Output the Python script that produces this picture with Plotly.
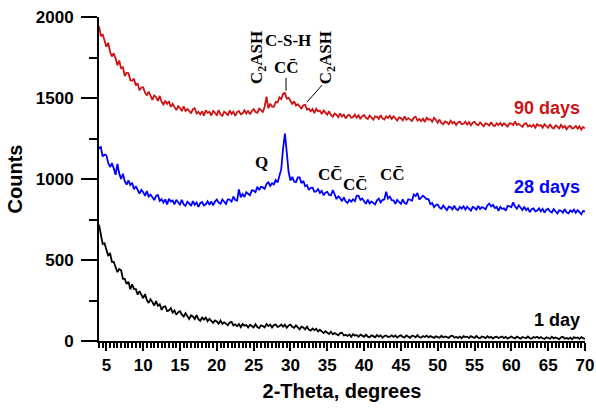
import numpy as np
import plotly.graph_objects as go

# XRD scan grid: 4-70 deg 2-theta, 0.25 deg step
two_theta = np.arange(4.0, 70.001, 0.25)

counts_90d = [
    1943, 1881, 1894, 1855, 1816, 1841, 1786, 1756, 1776, 1743, 1702, 1731, 1684, 1689, 1636, 1656, 1654, 1609, 1607, 1619,
    1577, 1590, 1547, 1565, 1567, 1533, 1516, 1540, 1516, 1488, 1516, 1506, 1482, 1513, 1476, 1460, 1484, 1464, 1480, 1445,
    1464, 1441, 1425, 1449, 1439, 1419, 1448, 1420, 1432, 1421, 1405, 1431, 1437, 1404, 1414, 1399, 1418, 1391, 1424, 1408,
    1415, 1392, 1422, 1408, 1395, 1425, 1398, 1390, 1416, 1407, 1393, 1423, 1402, 1416, 1389, 1413, 1420, 1399, 1406, 1424,
    1404, 1422, 1399, 1420, 1431, 1414, 1409, 1435, 1426, 1414, 1446, 1509, 1436, 1465, 1447, 1446, 1475, 1474, 1504, 1493,
    1527, 1531, 1496, 1501, 1483, 1461, 1480, 1453, 1461, 1450, 1435, 1455, 1458, 1428, 1434, 1418, 1432, 1407, 1433, 1418,
    1422, 1401, 1424, 1410, 1397, 1418, 1395, 1384, 1404, 1396, 1382, 1405, 1386, 1397, 1374, 1392, 1396, 1378, 1382, 1397,
    1378, 1393, 1370, 1388, 1395, 1378, 1371, 1392, 1381, 1366, 1387, 1384, 1371, 1394, 1374, 1367, 1387, 1377, 1390, 1371,
    1386, 1370, 1361, 1381, 1376, 1362, 1386, 1365, 1376, 1368, 1358, 1379, 1385, 1361, 1370, 1358, 1373, 1352, 1378, 1366,
    1369, 1353, 1377, 1365, 1347, 1367, 1345, 1338, 1356, 1350, 1338, 1360, 1343, 1353, 1333, 1349, 1354, 1338, 1341, 1354,
    1337, 1351, 1331, 1347, 1353, 1338, 1331, 1349, 1339, 1325, 1344, 1340, 1330, 1351, 1332, 1326, 1344, 1334, 1346, 1329,
    1344, 1331, 1324, 1344, 1342, 1333, 1355, 1334, 1341, 1331, 1322, 1340, 1345, 1324, 1332, 1322, 1335, 1317, 1338, 1329,
    1333, 1316, 1338, 1327, 1316, 1339, 1318, 1312, 1330, 1324, 1312, 1334, 1317, 1327, 1307, 1323, 1328, 1312, 1315, 1328,
    1311, 1325, 1305, 1321, 1313,
]

counts_28d = [
    1190, 1198, 1139, 1151, 1146, 1100, 1074, 1098, 1067, 1026, 1093, 1033, 1001, 1032, 987, 966, 991, 963, 977, 936,
    956, 929, 910, 933, 919, 896, 925, 891, 903, 888, 870, 896, 901, 865, 875, 855, 874, 843, 878, 861,
    867, 843, 872, 856, 842, 871, 843, 834, 859, 849, 834, 864, 841, 855, 828, 851, 858, 837, 844, 862,
    841, 861, 837, 861, 873, 854, 847, 874, 863, 846, 875, 872, 860, 892, 870, 867, 936, 887, 907, 889,
    918, 906, 900, 930, 928, 918, 952, 932, 952, 948, 939, 969, 980, 957, 974, 967, 993, 978, 1024, 1061,
    1188, 1280, 1165, 1043, 991, 1013, 984, 981, 1010, 1010, 974, 988, 956, 962, 932, 946, 947, 922, 924, 937,
    914, 927, 899, 916, 921, 902, 900, 931, 906, 876, 893, 882, 863, 886, 861, 852, 872, 860, 874, 863,
    897, 896, 871, 879, 863, 847, 872, 849, 861, 853, 843, 868, 878, 855, 870, 875, 922, 880, 891, 869,
    868, 846, 871, 858, 846, 874, 852, 847, 875, 872, 866, 904, 894, 914, 873, 885, 897, 887, 876, 876,
    845, 852, 826, 839, 842, 823, 816, 836, 824, 808, 829, 825, 812, 835, 814, 808, 828, 817, 831, 812,
    829, 814, 805, 827, 822, 810, 834, 815, 827, 821, 813, 838, 848, 831, 840, 821, 828, 804, 828, 815,
    819, 804, 834, 831, 827, 856, 830, 817, 837, 824, 808, 829, 808, 819, 796, 814, 819, 800, 805, 819,
    800, 815, 792, 810, 817, 800, 793, 814, 802, 787, 807, 804, 792, 814, 794, 788, 807, 797, 811, 791,
    808, 792, 783, 803, 798,
]

counts_1d = [
    718, 654, 599, 604, 570, 525, 543, 489, 489, 459, 425, 444, 437, 383, 383, 352, 366, 319, 350, 322,
    320, 286, 308, 286, 264, 290, 253, 235, 257, 240, 219, 246, 217, 227, 192, 211, 214, 185, 189, 203,
    176, 189, 162, 178, 184, 162, 151, 171, 156, 136, 158, 151, 136, 159, 135, 125, 145, 132, 145, 122,
    137, 122, 112, 127, 120, 107, 126, 106, 115, 106, 97, 114, 118, 96, 103, 91, 104, 85, 105, 95,
    99, 84, 101, 93, 84, 103, 86, 80, 97, 92, 84, 105, 92, 101, 84, 98, 101, 87, 91, 102,
    88, 100, 82, 96, 101, 87, 81, 96, 86, 72, 88, 83, 72, 88, 70, 64, 77, 67, 76, 59,
    69, 58, 49, 60, 54, 43, 57, 42, 49, 43, 35, 49, 51, 34, 39, 31, 40, 26, 42, 34,
    36, 26, 39, 33, 26, 39, 27, 23, 35, 30, 23, 37, 27, 34, 20, 31, 34, 24, 27, 35,
    25, 34, 21, 31, 35, 25, 22, 34, 29, 20, 33, 31, 23, 36, 24, 21, 31, 25, 33, 22,
    30, 23, 19, 29, 26, 20, 32, 22, 28, 24, 19, 30, 33, 21, 25, 19, 27, 17, 30, 24,
    27, 18, 30, 24, 19, 31, 20, 17, 28, 24, 18, 30, 20, 26, 15, 24, 27, 18, 21, 28,
    18, 26, 15, 24, 28, 20, 16, 27, 21, 14, 25, 23, 17, 28, 18, 15, 25, 20, 26, 17,
    24, 17, 13, 23, 20, 14, 26, 16, 22, 18, 12, 23, 26, 14, 19, 13, 21, 11, 24, 18,
    22, 13, 24, 18, 13,
]

series_names = ["1 day", "28 days", "90 days"]
series_counts = [counts_1d, counts_28d, counts_90d]
series_colors = ["#000000", "#0000ff", "#cc1414"]

CC_BAR = "CC\u0304"
C2ASH = "C<sub>2</sub>ASH"

SERIF = "Liberation Serif, Times New Roman, serif"
SANS = "Liberation Sans, Arial, sans-serif"

fig = go.Figure()
for name, ys, color in zip(series_names, series_counts, series_colors):
    fig.add_trace(
        go.Scatter(
            x=two_theta,
            y=ys,
            mode="lines",
            name=name,
            line=dict(color=color, width=1.8),
            hoverinfo="skip",
        )
    )

# phase labels (positions in data units)
peak_notes = [
    (C2ASH, 25.6, 1747, -90),
    ("C-S-H", 29.7, 1858, 0),
    (CC_BAR, 29.4, 1690, 0),
    (C2ASH, 35.0, 1747, -90),
    ("Q", 26.1, 1099, 0),
    (CC_BAR, 35.4, 1025, 0),
    (CC_BAR, 38.8, 963, 0),
    (CC_BAR, 43.9, 1025, 0),
]
for text, x, y, ang in peak_notes:
    fig.add_annotation(
        x=x, y=y, text=text, textangle=ang, showarrow=False,
        font=dict(family=SERIF, size=17, color="black", weight="bold"),
    )

fig.add_shape(type="line", x0=29.4, x1=29.4, y0=1625, y1=1545,
              line=dict(color="black", width=1))
fig.add_shape(type="line", x0=34.3, x1=32.25, y0=1580, y1=1475,
              line=dict(color="black", width=1))

for name, y, color in zip(series_names, [130, 950, 1438], series_colors):
    fig.add_annotation(
        x=69.6, y=y, text=name, showarrow=False, xanchor="right",
        font=dict(family=SANS, size=18, color=color, weight="bold"),
    )

fig.update_layout(
    width=596,
    height=416,
    margin=dict(l=99, r=11, t=17, b=75),
    plot_bgcolor="white",
    paper_bgcolor="white",
    showlegend=False,
    font=dict(family=SANS, color="black"),
)
fig.update_xaxes(
    range=[4, 70],
    showline=True, linecolor="black", linewidth=2,
    ticks="outside", ticklen=8, tickwidth=2, tickcolor="black",
    tick0=5, dtick=5,
    tickfont=dict(size=17, weight="bold"),
    minor=dict(dtick=0.5, ticks="outside", ticklen=5, tickwidth=1.5, tickcolor="black"),
    showgrid=False, zeroline=False, automargin=False,
    title=dict(text="2-Theta, degrees", font=dict(size=20, weight="bold"), standoff=10),
)
fig.update_yaxes(
    range=[0, 2000],
    showline=True, linecolor="black", linewidth=2,
    ticks="outside", ticklen=16, tickwidth=2, tickcolor="black",
    dtick=500, ticklabelstandoff=4,
    tickfont=dict(size=17, weight="bold"),
    minor=dict(dtick=250, ticks="outside", ticklen=8, tickwidth=2, tickcolor="black"),
    showgrid=False, zeroline=False, automargin=False,
    title=dict(text="Counts", font=dict(size=20, weight="bold"), standoff=8),
)

fig.write_html(
    "out.html",
    config={"displayModeBar": False},
    post_script="document.body.style.margin = '0';",
)
